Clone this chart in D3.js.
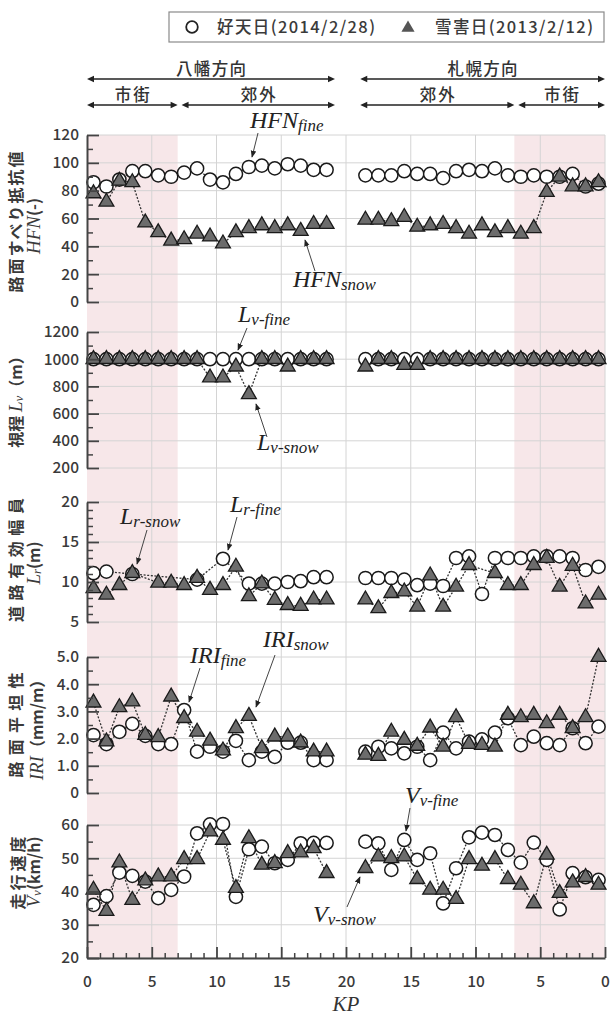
<!DOCTYPE html>
<html><head><meta charset="utf-8">
<script src="https://cdn.jsdelivr.net/npm/d3@7"></script>
<style>body{margin:0;background:#fff}</style>
</head><body><svg id="c" width="612" height="1017"></svg>
<script>
// ---------------- DATA ----------------
const kpYahata  = [0.5,1.5,2.5,3.5,4.5,5.5,6.5,7.5,8.5,9.5,10.5,11.5,12.5,13.5,14.5,15.5,16.5,17.5,18.5];
const kpSapporo = [18.5,17.5,16.5,15.5,14.5,13.5,12.5,11.5,10.5,9.5,8.5,7.5,6.5,5.5,4.5,3.5,2.5,1.5,0.5];
const kpTickLabels = ["0","5","10","15","20","15","10","5","0"];

const hfnFineY = [86,83,88,94,94,91,90,93,96,88,86,92,97,98,96,99,98,95,95];
const hfnSnowY = [78,72,87,86,57,50,44,45,49,47,42,50,53,55,53,55,51,56,56];
const hfnFineS = [91,91,91,94,92,92,89,94,95,94,96,91,90,91,90,90,92,83,85];
const hfnSnowS = [59,59,58,61,54,55,56,53,49,55,50,53,49,53,79,90,83,83,86];

const lvFineY = [1000,1000,1000,1000,1000,1000,1000,1000,1000,1000,1000,1000,1000,1000,1000,1000,1000,1000,1000];
const lvSnowY = [1000,1000,1000,1000,1000,1000,1000,1000,1000,865,865,945,742,1000,1000,945,1000,1000,1000];
const lvFineS = [1000,1000,1000,1000,1000,1000,1000,1000,1000,1000,1000,1000,1000,1000,1000,1000,1000,1000,1000];
const lvSnowS = [945,1000,1000,957,957,1000,1000,1000,1000,1000,1000,1000,1000,1000,1000,1000,1000,1000,1000];

const lrFineY = [11.1,11.3,null,11.0,null,null,null,null,10.3,null,12.9,null,9.8,9.8,9.8,10.0,10.1,10.6,10.6];
const lrSnowY = [9.2,8.4,9.6,11.1,null,9.9,9.9,9.6,10.5,9.0,9.6,11.9,8.2,9.8,7.75,7.1,7.0,7.8,7.8];
const lrFineS = [10.5,10.5,10.5,10.3,9.6,9.8,9.5,13.0,13.2,8.5,13.0,13.0,13.0,13.2,13.2,13.2,13.0,11.5,11.9];
const lrSnowS = [7.8,6.7,8.6,8.8,6.9,10.8,6.9,9.4,12.1,null,11.1,9.6,9.6,12.1,13.0,9.4,12.0,7.3,8.4];

const iriFineY = [2.13,1.8,2.25,2.54,2.1,1.8,1.8,3.05,1.52,1.7,1.52,1.92,1.21,1.52,1.33,1.85,1.85,1.21,1.21];
const iriSnowY = [3.32,1.89,3.15,3.36,2.13,2.05,3.54,2.75,2.25,1.92,1.56,2.38,2.83,1.64,2.07,2.07,1.85,1.52,1.52];
const iriFineS = [1.52,1.7,1.64,1.46,1.7,1.21,2.22,1.64,1.89,1.97,2.22,2.75,1.76,2.07,1.83,1.76,2.38,1.83,2.44];
const iriSnowS = [1.40,1.36,2.25,1.95,1.73,2.4,1.7,2.78,1.8,1.76,1.7,2.87,2.78,2.87,2.56,2.87,2.38,2.78,5.0];

const vFineY = [36,38.6,45.7,44.7,43,38,40.5,44.5,57.5,60.2,60.3,38.4,52.7,53.5,48.5,49.5,54.5,54.6,54.6];
const vSnowY = [40.5,34.1,48.7,37.4,43.3,44.5,44.5,49.7,49.7,58,55.5,41,56,48,48.5,51.5,51.7,53,45.5];
const vFineS = [55,54.5,46.5,55.5,49.5,51.5,36.4,47,56.3,57.7,57,52.5,48.7,54.7,49.5,34.6,45.5,44.3,43.5];
const vSnowS = [47,50.5,50,50.5,43.7,40.5,40.5,37.7,49.7,47.7,49.7,43.7,42,36.4,51,39.5,42.7,44.3,42];

const legendLabels = ["好天日(2014/2/28)", "雪害日(2013/2/12)"];
const directionLabels = ["八幡方向", "札幌方向"];
const zoneLabels = ["市街", "郊外", "郊外", "市街"];

// ---------------- LAYOUT ----------------
const svg = d3.select("#c");
const X0 = 87, X1 = 605, YTOP = 135, YBOT = 958;
const x = d3.scaleLinear().domain([0, 40]).range([X0, X1]);
const posS = kp => 40 - kp;
const JP = "'Noto Sans CJK JP','Noto Sans',sans-serif";
const SERIF = "'Liberation Serif','DejaVu Serif',serif";
const AX = "#444";

// pink urban zones
const urban = [[0, 7], [33, 40]];
svg.selectAll("rect.urb").data(urban).enter().append("rect")
  .attr("x", d => x(d[0])).attr("width", d => x(d[1]) - x(d[0]))
  .attr("y", YTOP).attr("height", YBOT - YTOP).attr("fill", "#f7e7e9");

// vertical grid
svg.selectAll("line.vg").data(d3.range(5, 41, 5)).enter().append("line")
  .attr("x1", d => x(d)).attr("x2", d => x(d)).attr("y1", YTOP).attr("y2", YBOT)
  .attr("stroke", "#d4d4d4").attr("stroke-width", 1);

const panels = [
  {dom:[0,120], rng:[302,135], major:20, minor:10, fmt:d=>d, fine:[hfnFineY,hfnFineS], snow:[hfnSnowY,hfnSnowS]},
  {dom:[200,1200], rng:[468,332], major:200, minor:100, fmt:d=>d, fine:[lvFineY,lvFineS], snow:[lvSnowY,lvSnowS]},
  {dom:[5,20], rng:[622,502], major:5, minor:1, fmt:d=>d, fine:[lrFineY,lrFineS], snow:[lrSnowY,lrSnowS]},
  {dom:[0,5], rng:[793,657], major:1, minor:0.5, fmt:d=>d===0?"0":d.toFixed(1), fine:[iriFineY,iriFineS], snow:[iriSnowY,iriSnowS]},
  {dom:[20,60], rng:[958,825], major:10, minor:5, fmt:d=>d, fine:[vFineY,vFineS], snow:[vSnowY,vSnowS]}
];

const lineGen = (y) => d3.line().x(d => x(d.p)).y(d => y(d.v));
const triSym = d3.symbol().type(d3.symbolTriangle).size(96);

panels.forEach((P, i) => {
  const y = d3.scaleLinear().domain(P.dom).range(P.rng);
  const majors = d3.range(P.dom[0], P.dom[1] + P.major/2, P.major);
  const minors = d3.range(P.dom[0], P.dom[1] + P.minor/2, P.minor).filter(v => !majors.some(m => Math.abs(m - v) < 1e-9));
  svg.append("g").selectAll("line").data(majors).enter().append("line")
    .attr("x1", X0).attr("x2", X1).attr("y1", d => y(d)).attr("y2", d => y(d))
    .attr("stroke", "#d4d4d4").attr("stroke-width", 1);
  const g = svg.append("g");
  const mk = (arr, kps, mapP) => kps.map((k, j) => ({p: mapP(k), v: arr[j]})).filter(d => d.v !== null);
  const fineSets = [mk(P.fine[0], kpYahata, k => k), mk(P.fine[1], kpSapporo, posS)];
  const snowSets = [mk(P.snow[0], kpYahata, k => k), mk(P.snow[1], kpSapporo, posS)];
  [...fineSets, ...snowSets].forEach(s => {
    g.append("path").attr("d", lineGen(y)(s)).attr("fill", "none")
      .attr("stroke", "#333").attr("stroke-width", 1.3).attr("stroke-dasharray", "2,1.6");
  });
  fineSets.forEach(s => {
    g.selectAll(null).data(s).enter().append("circle")
      .attr("cx", d => x(d.p)).attr("cy", d => y(d.v)).attr("r", 6.6)
      .attr("fill", "#fff").attr("stroke", "#1a1a1a").attr("stroke-width", 1.5);
  });
  snowSets.forEach(s => {
    g.selectAll(null).data(s).enter().append("path")
      .attr("d", triSym).attr("transform", d => `translate(${x(d.p)},${y(d.v)})`)
      .attr("fill", "#6c6c6c").attr("stroke", "#1a1a1a").attr("stroke-width", 1.3);
  });
  const ax = svg.append("g").attr("transform", `translate(${X0},0)`)
    .call(d3.axisLeft(y).tickValues(majors).tickSize(-12).tickSizeOuter(0).tickPadding(8).tickFormat(P.fmt));
  ax.select(".domain").attr("stroke", AX).attr("stroke-width", 2);
  ax.selectAll(".tick line").attr("stroke", AX).attr("stroke-width", 1.8);
  ax.selectAll("text").attr("font-family", JP).attr("font-size", 15.5).attr("font-weight", 500).attr("fill", "#3a3a3a");
  const axm = svg.append("g").attr("transform", `translate(${X0},0)`)
    .call(d3.axisLeft(y).tickValues(minors).tickSize(-6).tickSizeOuter(0).tickFormat(""));
  axm.select(".domain").remove();
  axm.selectAll(".tick line").attr("stroke", AX).attr("stroke-width", 1.5);
});

// x axis
const xa = svg.append("g").attr("transform", `translate(0,${YBOT})`)
  .call(d3.axisBottom(x).tickValues(d3.range(0, 41, 5)).tickSize(-11).tickSizeOuter(0).tickPadding(18)
    .tickFormat((d, i) => kpTickLabels[i]));
xa.select(".domain").attr("stroke", AX).attr("stroke-width", 2);
xa.selectAll(".tick line").attr("stroke", AX).attr("stroke-width", 1.8);
xa.selectAll("text").attr("font-family", JP).attr("font-size", 15.5).attr("font-weight", 500).attr("fill", "#3a3a3a");
const xam = svg.append("g").attr("transform", `translate(0,${YBOT})`)
  .call(d3.axisBottom(x).tickValues(d3.range(0, 41, 1).filter(v => v % 5 !== 0)).tickSize(-5).tickSizeOuter(0).tickFormat(""));
xam.select(".domain").remove();
xam.selectAll(".tick line").attr("stroke", AX).attr("stroke-width", 1.5);
svg.append("text").attr("x", x(20)).attr("y", 1011).attr("text-anchor", "middle")
  .attr("font-family", SERIF).attr("font-style", "italic").attr("font-size", 21).attr("fill", "#333").text("KP");

// ---------------- Y TITLES ----------------
function vtext(cx, cy, parts, len) {
  const t = svg.append("text").attr("transform", `translate(${cx},${cy}) rotate(-90)`)
    .attr("text-anchor", "middle").attr("dominant-baseline", "central").attr("fill", "#3a3a3a");
  if (len) t.attr("textLength", len).attr("lengthAdjust", "spacing");
  parts.forEach(p => {
    const s = t.append("tspan").text(p.t);
    if (p.it) s.attr("font-family", SERIF).attr("font-style", "italic").attr("font-size", p.fs || 19);
    else s.attr("font-family", JP).attr("font-weight", 700).attr("font-size", p.fs || 16);
    if (p.dy) s.attr("dy", p.dy);
  });
}
vtext(15, 222, [{t:"路面すべり抵抗値"}], 141);
vtext(33, 226, [{t:"HFN", it:1}, {t:"(-)", fs:16}]);
vtext(15, 398, [{t:"視程 "}, {t:"L", it:1}, {t:"v", it:1, fs:13, dy:3}, {t:"（m）", dy:-3}]);
vtext(15, 560, [{t:"道路有効幅員"}], 124);
vtext(33, 563, [{t:"L", it:1}, {t:"r", it:1, fs:13, dy:3}, {t:"(m)", fs:16, dy:-3}]);
vtext(15, 725, [{t:"路面平坦性"}], 105);
vtext(36, 726, [{t:"IRI", it:1}, {t:"（mm/m）", fs:16}]);
vtext(17, 873, [{t:"走行速度"}], 73);
vtext(33, 872, [{t:"V", it:1}, {t:"v", it:1, fs:13, dy:3}, {t:"(km/h)", fs:16, dy:-3}]);

// ---------------- LEGEND ----------------
svg.append("rect").attr("x", 169).attr("y", 12).attr("width", 435).attr("height", 30)
  .attr("fill", "#fff").attr("stroke", "#8a8a8a").attr("stroke-width", 1.2);
svg.append("circle").attr("cx", 192).attr("cy", 27).attr("r", 5.8).attr("fill", "#fff").attr("stroke", "#222").attr("stroke-width", 1.8);
svg.append("path").attr("d", d3.symbol().type(d3.symbolTriangle).size(75)).attr("transform", "translate(408,28)").attr("fill", "#555");
[[217, legendLabels[0]], [435, legendLabels[1]]].forEach(([lx, s]) => {
  svg.append("text").attr("x", lx).attr("y", 33).attr("font-family", JP).attr("font-size", 16.5)
    .attr("font-weight", 500).attr("fill", "#3a3a3a").attr("textLength", 158).attr("lengthAdjust", "spacing").text(s);
});

// ---------------- HEADER ARROWS ----------------
function darrow(p0, p1, yy) {
  const a = x(p0), b = x(p1);
  svg.append("line").attr("x1", a + 4).attr("x2", b - 4).attr("y1", yy).attr("y2", yy).attr("stroke", "#222").attr("stroke-width", 1.3);
  svg.append("path").attr("d", `M${a},${yy} l7,-3.2 l0,6.4 z`).attr("fill", "#222");
  svg.append("path").attr("d", `M${b},${yy} l-7,-3.2 l0,6.4 z`).attr("fill", "#222");
}
function htext(p0, p1, yy, s, len) {
  svg.append("text").attr("x", (x(p0) + x(p1)) / 2).attr("y", yy).attr("text-anchor", "middle")
    .attr("font-family", JP).attr("font-size", 16.5).attr("font-weight", 500).attr("fill", "#333")
    .attr("textLength", len).attr("lengthAdjust", "spacing").text(s);
}
const dirSpans = [[0, 19.15], [21.1, 40]];
const zoneSpans = [[0, 7.0], [7.3, 19.15], [21.1, 33.0], [33.3, 40]];
dirSpans.forEach((d, i) => { darrow(d[0], d[1], 79); htext(d[0], d[1], 75, directionLabels[i], 70); });
zoneSpans.forEach((d, i) => { darrow(d[0], d[1], 105); htext(d[0], d[1], 101, zoneLabels[i], 35); });

// ---------------- ANNOTATIONS ----------------
svg.append("defs").append("marker").attr("id", "ah").attr("viewBox", "0 0 10 10").attr("refX", 9).attr("refY", 5)
  .attr("markerWidth", 7).attr("markerHeight", 7).attr("orient", "auto")
  .append("path").attr("d", "M0,1 L10,5 L0,9 z").attr("fill", "#222");
const notes = [
  {m:"HFN", s:"fine", tx:250, ty:128, a:[258,133,252,157]},
  {m:"HFN", s:"snow", tx:293, ty:287, a:[315,271,305,240]},
  {m:"L", s:"v-fine", tx:238, ty:322, a:[247,328,238,350]},
  {m:"L", s:"v-snow", tx:257, ty:450, a:[267,437,256,404]},
  {m:"L", s:"r-snow", tx:120, ty:524, a:[147,530,137,564]},
  {m:"L", s:"r-fine", tx:230, ty:512, a:[237,517,228,550]},
  {m:"IRI", s:"fine", tx:190, ty:663, a:[200,668,189,702]},
  {m:"IRI", s:"snow", tx:263, ty:647, a:[275,655,256,707]},
  {m:"V", s:"v-fine", tx:405, ty:803, a:[410,808,406,831]},
  {m:"V", s:"v-snow", tx:313, ty:922, a:[347,907,360,877]}
];
notes.forEach(n => {
  svg.append("line").attr("x1", n.a[0]).attr("y1", n.a[1]).attr("x2", n.a[2]).attr("y2", n.a[3])
    .attr("stroke", "#444").attr("stroke-width", 1).attr("marker-end", "url(#ah)");
  const t = svg.append("text").attr("x", n.tx).attr("y", n.ty).attr("font-family", SERIF).attr("font-style", "italic").attr("fill", "#222");
  t.append("tspan").attr("font-size", 24).text(n.m);
  t.append("tspan").attr("font-size", 17).attr("dy", 3).text(n.s);
});
</script></body></html>
